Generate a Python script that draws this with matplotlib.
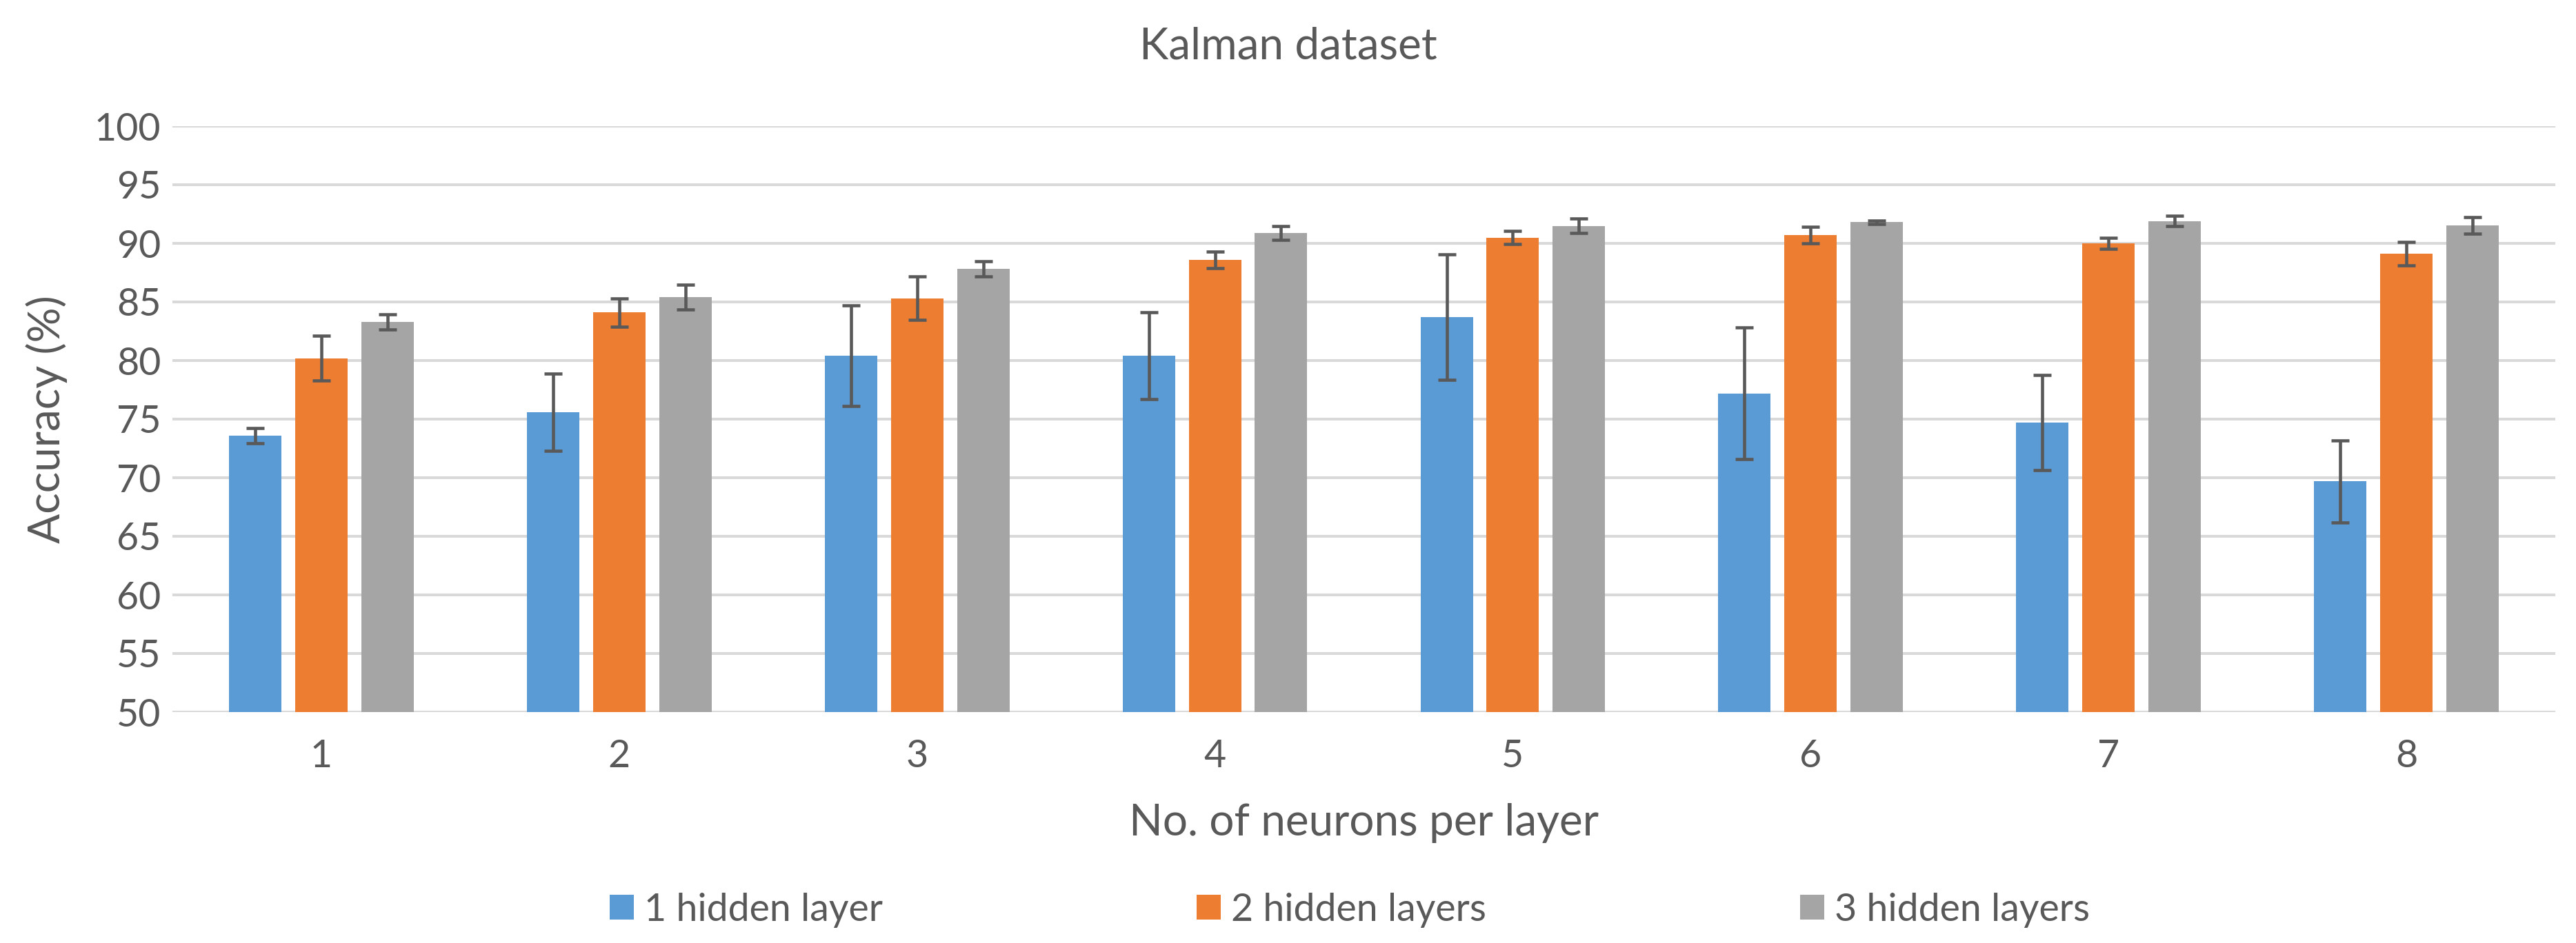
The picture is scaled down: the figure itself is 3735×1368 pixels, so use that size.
import matplotlib
matplotlib.use("Agg")
import matplotlib.pyplot as plt
import numpy as np

plt.rcParams['font.family'] = ['Lato', 'DejaVu Sans']

categories = ['1', '2', '3', '4', '5', '6', '7', '8']
series_names = ['1 hidden layer', '2 hidden layers', '3 hidden layers']
one_layer = [73.6, 75.6, 80.4, 80.4, 83.7, 77.2, 74.7, 69.7]
one_layer_err = [0.65, 3.3, 4.3, 3.7, 5.35, 5.6, 4.05, 3.5]
two_layers = [80.2, 84.1, 85.3, 88.6, 90.5, 90.7, 90.0, 89.1]
two_layers_err = [1.9, 1.2, 1.85, 0.7, 0.55, 0.7, 0.45, 1.0]
three_layers = [83.3, 85.4, 87.8, 90.9, 91.5, 91.8, 91.9, 91.55]
three_layers_err = [0.65, 1.05, 0.65, 0.6, 0.6, 0.15, 0.45, 0.7]
y_ticks = [50, 55, 60, 65, 70, 75, 80, 85, 90, 95, 100]

colors = ['#5B9BD5', '#ED7D31', '#A5A5A5']
text_color = '#595959'

fig = plt.figure(figsize=(37.35, 13.68), dpi=100)
ax = fig.add_axes([250/3735, 1 - 1033/1368, (3705-250)/3735, (1033-183)/1368])

x = np.arange(len(categories))
width = 0.176
offset = 0.222
data = [(one_layer, one_layer_err), (two_layers, two_layers_err), (three_layers, three_layers_err)]
for i, ((vals, errs), name, c) in enumerate(zip(data, series_names, colors)):
    ax.bar(x + (i - 1) * offset, vals, width, color=c, label=name, zorder=2)
    ax.errorbar(x + (i - 1) * offset, vals, yerr=errs, fmt='none', ecolor='#595959',
                elinewidth=3.3, capsize=9.5, capthick=3.3, zorder=3)

ax.set_ylim(50, 100)
ax.set_xlim(-0.5, len(categories) - 0.5)
ax.set_yticks(y_ticks)
ax.set_xticks(x)
ax.set_xticklabels(categories)
ax.yaxis.grid(True, color='#D9D9D9', linewidth=2.9, zorder=0)
ax.set_axisbelow(True)
for s in ['top', 'right', 'left', 'bottom']:
    ax.spines[s].set_visible(False)
ax.tick_params(axis='both', length=0, labelsize=40, colors=text_color, pad=12)
ax.tick_params(axis='x', pad=28)

ax.set_ylabel('Accuracy (%)', fontsize=46, color=text_color, labelpad=28)
ax.set_xlabel('No. of neurons per layer', fontsize=46, color=text_color, labelpad=30)
fig.text(0.5, 1 - 67/1368, 'Kalman dataset', ha='center', va='center', fontsize=46, color=text_color)

leg = fig.legend(loc='center', bbox_to_anchor=(1957/3735, 1 - 1320/1368), ncol=3, frameon=False,
                 fontsize=40, handlelength=0.62, handleheight=0.6, handletextpad=0.27,
                 columnspacing=8.2, labelcolor=text_color)

fig.savefig('out.png', dpi=100, facecolor='white')
